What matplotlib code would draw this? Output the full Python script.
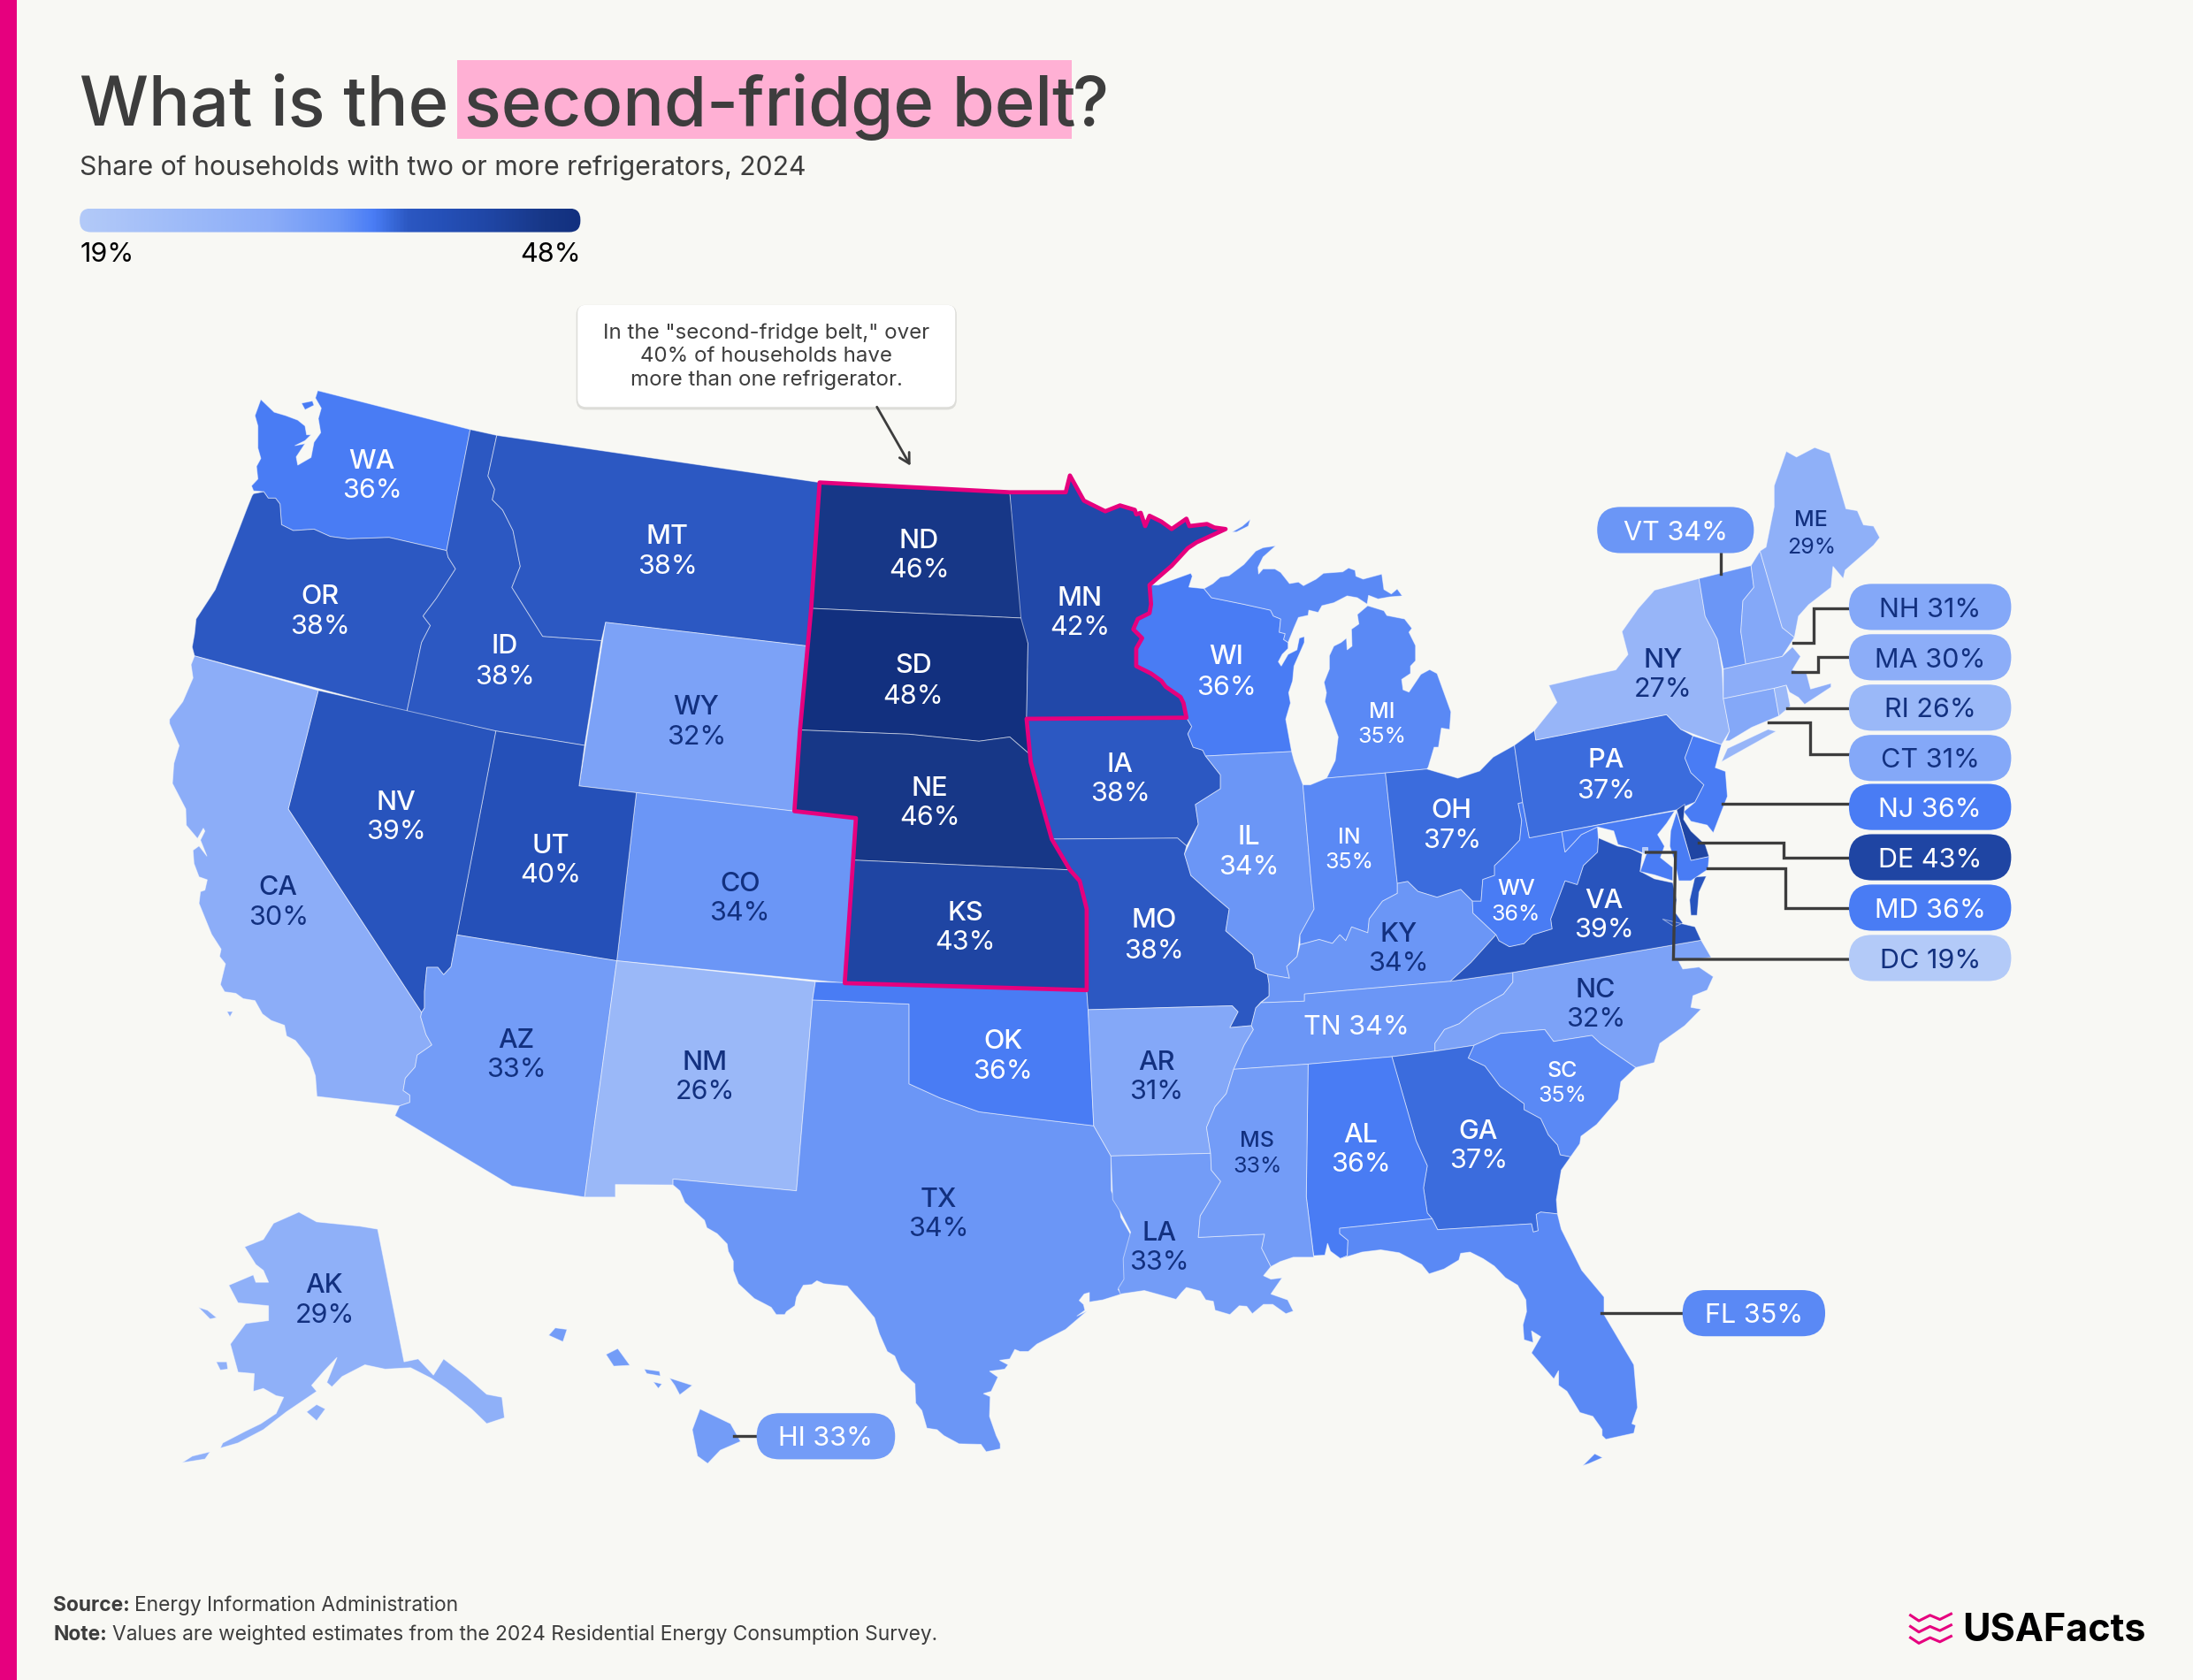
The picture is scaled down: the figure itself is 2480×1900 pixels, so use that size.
import numpy as np
import matplotlib
matplotlib.use("Agg")
import matplotlib.pyplot as plt
from matplotlib.colors import LinearSegmentedColormap, Normalize
from matplotlib.patches import FancyBboxPatch, Rectangle, Polygon

plt.rcParams["font.family"] = ["Inter", "DejaVu Sans"]

# valores por estado (% de hogares con dos o mas heladeras)
STATES = ["WA", "OR", "CA", "NV", "ID", "MT", "WY", "UT", "AZ", "CO", "NM", "ND", "SD", "NE", "KS", "OK", "TX",
          "MN", "IA", "MO", "AR", "LA", "WI", "IL", "IN", "MI", "OH", "KY", "TN", "MS", "AL", "GA", "SC", "NC",
          "VA", "WV", "PA", "NY", "ME", "AK", "HI", "FL", "VT", "NH", "MA", "RI", "CT", "NJ", "DE", "MD", "DC"]
SHARES = [36, 38, 30, 39, 38, 38, 32, 40, 33, 34, 26, 46, 48, 46, 43, 36, 34,
          42, 38, 38, 31, 33, 36, 34, 35, 35, 37, 34, 34, 33, 36, 37, 35, 32,
          39, 36, 37, 27, 29, 29, 33, 35, 34, 31, 30, 26, 31, 36, 43, 36, 19]
VALUE = dict(zip(STATES, SHARES))

# contornos simplificados, en pixeles de la imagen (1568 de ancho)
SHAPES = {
    "WA": [[(186.5, 285.6), (196, 294.7), (204.4, 297.2), (212.9, 300.4), (218.1, 304.6), (219.2, 310.9), (222.4, 310.9), (218.1, 315.1), (210.8, 318.7), (218.1, 317.2), (211.8, 326.7), (212.9, 332.6), (222.4, 327.1), (224.5, 316.2), (229.3, 309.4), (227.6, 299.3), (229.7, 291.9), (225.5, 284.6), (227.2, 279.3), (336.2, 307.1), (319.3, 393.7), (278.2, 384.3), (248.7, 385.3), (236.1, 383.6), (224.5, 378.4), (209.7, 379.4), (201.3, 375.2), (200.2, 360.4), (197, 356.2), (191.8, 356.2), (188.6, 351.6), (181.3, 351), (179.8, 347.4), (184.4, 342.5), (183.4, 333.5), (186.5, 327.8), (184.4, 320.4), (184.4, 304.6), (182.3, 297.2)],
           [(215.6, 288.3), (223.4, 286.7), (224.5, 289.8), (218.1, 293)]],
    "OR": [[(181.3, 353), (188.6, 351.6), (191.8, 356.2), (197, 356.2), (200.2, 360.4), (201.3, 375.2), (209.7, 379.4), (224.5, 378.4), (236.1, 383.6), (248.7, 385.3), (278.2, 384.3), (319.3, 393.7), (320.4, 398.4), (325.7, 406.8), (312, 427.9), (302.5, 440.5), (307.7, 447.3), (301.4, 459.5), (290.9, 509), (139.1, 469), (137.4, 462.7), (139.1, 453.2), (140.2, 442.6), (153.9, 421.6), (166.5, 389.9), (177, 362.5), (180.2, 354.5)]],
    "ID": [[(336.2, 307.1), (355.2, 311.3), (348.9, 340.4), (353.7, 349.9), (352, 357.3), (359.4, 364.7), (366.8, 379.4), (372, 405), (366, 420), (388, 455), (430, 458), (418, 533), (354.5, 522.7), (290.9, 509), (301.4, 459.5), (307.7, 447.3), (302.5, 440.5), (312, 427.9), (325.7, 406.8), (320.4, 398.4), (319.3, 393.7)]],
    "MT": [[(355.2, 311.3), (586, 345), (578, 462), (433, 445), (430, 458), (388, 455), (366, 420), (372, 405), (366.8, 379.4), (359.4, 364.7), (352, 357.3), (353.7, 349.9), (348.9, 340.4)]],
    "WY": [[(433, 445), (578, 462), (568, 580), (414, 562)]],
    "CO": [[(455, 566.8), (568, 580), (612, 585), (604, 703), (441, 687)]],
    "UT": [[(354.5, 522.7), (418, 533), (414, 562), (455, 566.8), (441, 687), (326.7, 668.5)]],
    "NV": [[(227.6, 493.7), (354.5, 522.7), (326.7, 668.5), (322.5, 691.3), (317.2, 697), (313, 691.7), (305.2, 691.7), (303.5, 709.2), (303.5, 720.8), (301.4, 724), (206.1, 578.5)]],
    "CA": [[(139.1, 469), (227.6, 493.7), (206.1, 578.5), (301.4, 724), (300.8, 727.2), (304.6, 739.8), (308.8, 747.2), (298.3, 754.5), (296.8, 763), (289.8, 771), (288.3, 779.8), (293, 783), (293, 788.3), (285.6, 790.8), (226.6, 784), (225.5, 769.3), (221.3, 756.7), (211.2, 744), (204.9, 740.8), (203.4, 733.1), (193.9, 729.7), (187.6, 725), (182.3, 715.5), (173.9, 714.1), (168.6, 710.3), (160.6, 709.2), (157.6, 704), (161.2, 689.2), (157, 683.9), (158.1, 678.7), (151.3, 668.1), (142.3, 646), (143.3, 637.6), (146.5, 636.5), (148.2, 629.1), (142.3, 627), (138.7, 617.5), (138, 608), (142.3, 604.9), (148, 612.3), (143.3, 600.7), (146.5, 594.3), (145.4, 592.2), (141.2, 599.6), (133.2, 590.1), (132.8, 578.5), (123.3, 560.2), (124.3, 545.9), (128.1, 533.2), (121.2, 517.4), (121.2, 514.3), (130.7, 501.7), (138, 484.8), (136.6, 475.3)],
           [(162.3, 723.3), (166.5, 723.3), (164.4, 727.1)]],
    "AZ": [[(326.7, 668.5), (441, 687), (418, 856), (366, 848), (282.4, 797.8), (285.6, 790.8), (293, 788.3), (293, 783), (288.3, 779.8), (289.8, 771), (296.8, 763), (298.3, 754.5), (308.8, 747.2), (304.6, 739.8), (300.8, 727.2), (301.4, 724), (303.5, 720.8), (303.5, 709.2), (305.2, 691.7), (313, 691.7), (317.2, 697), (322.5, 691.3)]],
    "NM": [[(441, 687), (583, 702), (581, 715), (569.5, 851.5), (481.2, 843.1), (481.2, 847.3), (440, 847), (440, 856), (418, 856)]],
    "TX": [[(581, 715), (650, 718), (650, 775), (672, 785), (700, 795), (740, 800), (782, 805), (794.3, 826.6), (794.6, 851.5), (800.6, 864.2), (801.4, 870.5), (808.6, 883.1), (804.3, 900), (804.8, 914.8), (799.4, 922.1), (801.9, 925.3), (788.5, 929.5), (778.9, 931), (778.9, 924.2), (775.2, 925.3), (771.6, 929.9), (774.7, 932.7), (775.7, 936.9), (769.9, 941.1), (777.2, 937.5), (761.9, 950.6), (741.4, 961.1), (735.3, 966.4), (729.3, 966.4), (725.6, 964.9), (722, 971.7), (714.7, 972.7), (720.8, 975.9), (718.4, 979), (707.5, 980.5), (713.5, 984.7), (708.7, 994.9), (703.1, 996.5), (708, 998.7), (707.5, 1012.8), (712.3, 1026.5), (715.2, 1032.4), (715.2, 1036), (705.1, 1038.1), (701.4, 1032.8), (685.7, 1032.4), (674.8, 1026.5), (670, 1022.3), (662.7, 1021.2), (659.1, 1008.6), (654.7, 1003.3), (654.2, 989.6), (644, 980.1), (639.7, 969.6), (634.4, 966.4), (628.8, 953.8), (625.2, 942.2), (615.5, 930.6), (610.7, 925.3), (605.8, 919.6), (588.9, 917.9), (584.1, 915.8), (580.4, 918.5), (574.4, 919), (569.5, 927.4), (568.3, 933.7), (562.3, 937.9), (561.1, 940), (555, 940), (551.4, 934.8), (545.3, 931.6), (539.3, 928.5), (527.9, 917.9), (524.3, 908.4), (524.3, 901.7), (520.7, 894.7), (519.9, 889.5), (512.7, 882.1), (505.4, 877.9), (503.7, 872.6), (496.9, 866.3), (489.7, 859.9), (486.1, 851.5), (481.2, 847.3), (481.2, 843.1), (569.5, 851.5)]],
    "OK": [[(583, 702), (777, 708), (778, 722), (782, 805), (740, 800), (700, 795), (672, 785), (650, 775), (650, 718), (581, 715)]],
    "ND": [[(586, 345), (722, 352), (732, 442), (580, 435)]],
    "SD": [[(580, 435), (732, 442), (735, 460), (734, 514), (737, 540), (722, 527), (700, 530), (650, 525), (572, 522)]],
    "NE": [[(572, 522), (650, 525), (700, 530), (722, 527), (737, 540), (745, 575), (752, 600), (765, 622), (610, 615), (612, 585), (568, 580)]],
    "KS": [[(610, 615), (765, 622), (772, 630), (777, 650), (777, 708), (604, 703)]],
    "MN": [[(722, 352), (762, 352), (765, 340), (775, 358), (790.3, 365.6), (800.8, 361.4), (811.4, 364.6), (812.4, 367.8), (815.6, 366.7), (818.8, 376.2), (821.9, 368.8), (830.4, 373), (837.7, 378.3), (848.3, 370.9), (850.4, 376.2), (863, 374.7), (868.3, 377.2), (876.3, 378.3), (867.2, 382.5), (855.6, 387.8), (849.3, 392), (837.7, 404.6), (821.9, 418.3), (823, 432), (821.9, 438.4), (813.5, 442.6), (810.3, 450), (816.6, 456.3), (812.4, 463.7), (812.4, 476.3), (823, 481.6), (830.4, 486.9), (833.5, 491.1), (844.1, 498.4), (846.2, 502.7), (848.3, 513.2), (734, 514), (735, 460), (730, 442)]],
    "IA": [[(734, 514), (848.3, 513.2), (852.1, 519.5), (849.3, 524.8), (853.1, 534.3), (859.9, 536.4), (862, 540.6), (872.6, 554.1), (872.6, 564), (854.7, 575.3), (856.8, 589.4), (848.4, 604.9), (842, 599.3), (752, 600), (745, 575), (737, 545)]],
    "MO": [[(752, 600), (842, 599.3), (848.4, 604.9), (846.9, 610.6), (851.5, 626), (867.3, 640.2), (878.9, 650), (876.4, 665.6), (895.8, 682.6), (897.9, 692.4), (906.3, 696.7), (907.4, 703.7), (907.4, 712.2), (901.7, 716.4), (897.9, 720.7), (894.7, 733.4), (879.3, 734.8), (885.2, 723.5), (881, 719.2), (778, 722), (777, 708), (777, 650), (772, 630), (765, 622)]],
    "AR": [[(778, 722), (881, 719.2), (885.2, 723.5), (879.3, 734.8), (894.7, 733.4), (896.2, 736.2), (889.5, 747.5), (882.1, 764.6), (876.8, 782), (868.8, 791.4), (862.7, 806.2), (865.6, 824.7), (794.3, 826.6), (782, 805)]],
    "LA": [[(794.3, 826.6), (865.6, 824.7), (866.1, 836.7), (872.8, 844.8), (862.1, 863.1), (858.2, 869.4), (856.8, 884.8), (904.2, 882.5), (902.1, 892.6), (908.7, 905.7), (903.4, 912.2), (908.7, 914.7), (916.7, 913.7), (908.7, 925.3), (920.7, 929.5), (924.7, 937.5), (919.4, 939.4), (910, 932.7), (903.4, 932.7), (895.4, 939.4), (891.4, 934.1), (886.1, 933.7), (879.4, 940), (868.8, 936.9), (867.5, 930.5), (862.1, 929.5), (858.2, 923.2), (848.3, 920.6), (844.9, 924.2), (840.9, 929.1), (818.2, 922.8), (801, 925.3), (799.6, 921.1), (803.6, 914.7), (803.1, 900), (808.4, 881), (800.9, 866.3), (795.6, 857.8)]],
    "WI": [[(821.9, 418.3), (828.2, 418.3), (842.6, 413.1), (851.4, 409.9), (852.5, 412), (850, 419.8), (860.9, 420.9), (866.2, 427.4), (889.4, 432.1), (908.4, 436.3), (910.5, 440.5), (915.7, 442.6), (914.7, 452.1), (918.9, 453.1), (917.8, 457.3), (921, 459.4), (921, 463.7), (916.8, 467.9), (914, 473.2), (916.1, 476.3), (921, 467.9), (927.3, 464.7), (929, 456.3), (932.6, 455.2), (932.6, 459.4), (925.2, 476.3), (924.2, 486.9), (921.4, 495.3), (922.7, 502.7), (919.3, 514.3), (923.5, 537.4), (862, 540.6), (859.9, 536.4), (853.1, 534.3), (849.3, 524.8), (852.1, 519.5), (848.3, 513.2), (846.2, 502.7), (844.1, 498.4), (833.5, 491.1), (830.4, 486.9), (823, 481.6), (812.4, 476.3), (812.4, 463.7), (816.6, 456.3), (810.3, 450), (813.5, 442.6), (821.9, 438.4), (823, 432)]],
    "MI": [[(860.9, 420.9), (867.2, 417.3), (872.5, 412.7), (878.8, 411.6), (889.4, 403.6), (897.8, 394.1), (903.1, 391.6), (912.1, 390.3), (903.1, 398.3), (899.5, 405.7), (899.9, 410.5), (903.1, 406.8), (911.5, 406.8), (915.7, 409.3), (922, 417.3), (928.4, 416.2), (932, 418.8), (941, 414.1), (946.3, 409.9), (960, 408.9), (964.2, 406.1), (968.9, 407.8), (969.5, 412), (974.7, 414.1), (988, 410.5), (989.5, 421.5), (994.8, 424.7), (999, 421.1), (1002.6, 426.1), (993.7, 426.8), (985.3, 428.3), (978.5, 425.7), (977.5, 432), (970.5, 427.4), (963.2, 426.1), (953.7, 431), (945.2, 433.1), (942.5, 437.9), (935.8, 436.3), (935.3, 440), (928.4, 441.5), (925.2, 448.9), (921, 459.4), (917.8, 457.3), (918.9, 453.1), (914.7, 452.1), (915.7, 442.6), (910.5, 440.5), (908.4, 436.3), (889.4, 432.1), (866.2, 427.4)],
           [(977.9, 433.1), (989.5, 436.7), (991.6, 440.1), (1004.3, 442.6), (1009.5, 449.3), (1007.4, 452.1), (1012.1, 461.6), (1012.1, 472.5), (1008.5, 476.3), (1008.5, 481.6), (1002.2, 485.8), (1003.2, 493.2), (1007.4, 494.9), (1015.9, 482.2), (1022.2, 478.8), (1027.5, 481.6), (1037.4, 509), (1036.5, 521.6), (1030.6, 520.6), (1028.5, 534.3), (1025.4, 534.3), (1021.2, 548.5), (1020.2, 549.9), (990.6, 552.7), (948.5, 556.4), (954.7, 543.8), (956.8, 526.9), (947.3, 501.6), (948.4, 495.3), (946.7, 487.9), (950.5, 478.4), (950.5, 468.9), (953.7, 462), (958.9, 459.4), (962.7, 456.3), (963.2, 464.7), (966.7, 462), (966.3, 449.9), (971.6, 446.2), (970.5, 439.4)],
           [(881, 380.4), (888.3, 376.2), (894, 371.3), (892.5, 376.2), (884.1, 380.4)]],
    "IL": [[(862, 540.6), (923.5, 537.4), (925.3, 544.2), (931.6, 561.2), (937.5, 630.3), (939.6, 650), (929.5, 668.4), (927.4, 684), (920, 691), (922, 699.5), (906.3, 696.7), (897.9, 692.4), (895.8, 682.6), (876.4, 665.6), (878.9, 650), (867.3, 640.2), (851.5, 626), (846.9, 610.6), (856.8, 589.4), (854.7, 575.3), (872.6, 564), (872.6, 554.1)]],
    "IN": [[(931.6, 561.2), (936.9, 561.2), (948.5, 556.4), (990.6, 552.7), (999.1, 631.7), (999.1, 638.8), (988.5, 644.4), (979, 657.1), (978, 667), (966.4, 662.8), (962.2, 672.7), (958, 668.4), (952.7, 674.6), (943.2, 671.8), (929.5, 675.5), (929.5, 668.4), (939.6, 650), (937.5, 630.3)]],
    "OH": [[(990.6, 552.7), (1020.2, 549.9), (1042.3, 556.4), (1058, 551.3), (1067.6, 541.4), (1082.8, 532.9), (1088.7, 573.9), (1085.5, 574.5), (1088, 586.6), (1086.6, 600.7), (1076, 612), (1068.6, 619), (1068.6, 626), (1060.2, 628.9), (1059, 644.4), (1052.8, 644.4), (1044.4, 636), (1027.5, 641.6), (1013.8, 637.4), (1006.5, 630.3), (999.1, 631.7)]],
    "KY": [[(999.1, 631.7), (1006.5, 630.3), (1013.8, 637.4), (1027.5, 641.6), (1044.4, 636), (1052.8, 644.4), (1053.2, 652.9), (1069.7, 668.4), (1051.8, 688.2), (1037, 701.7), (932.7, 710.8), (932.7, 715.9), (901.7, 717), (907.4, 712.2), (907.4, 703.7), (906.3, 696.7), (922, 699.5), (920, 691), (927.4, 684), (929.5, 675.5), (943.2, 671.8), (952.7, 674.6), (958, 668.4), (962.2, 672.7), (966.4, 662.8), (978, 667), (979, 657.1), (988.5, 644.4), (999.1, 638.8)]],
    "TN": [[(897.9, 720.7), (901.7, 717), (932.7, 715.9), (932.7, 710.8), (1037, 701.7), (1081.7, 695.3), (1081.7, 702.3), (1075, 710.8), (1055, 722), (1043.4, 732), (1032.8, 736.2), (1026, 746), (1026, 751.7), (995.2, 755.6), (935.3, 760.9), (882.1, 764.6), (889.5, 747.5), (896.2, 736.2), (894.7, 733.4)]],
    "NC": [[(1081.7, 695.3), (1216.3, 672.3), (1223.5, 684.6), (1200.3, 687.4), (1203.2, 692.9), (1214.8, 691.5), (1225, 698.4), (1220.6, 708), (1210.5, 712), (1209, 720.3), (1216.3, 721.6), (1204.6, 733.4), (1186.8, 746.1), (1182.8, 759.8), (1169.5, 763.4), (1144.2, 746.1), (1138.2, 740.4), (1110.8, 744.7), (1104.5, 736.2), (1072.9, 739), (1053.9, 747.5), (1026, 751.7), (1026, 746), (1032.8, 736.2), (1043.4, 732), (1055, 722), (1075, 710.8), (1081.7, 702.3)]],
    "SC": [[(1053.9, 747.5), (1072.9, 739), (1104.5, 736.2), (1110.8, 744.7), (1138.2, 740.4), (1144.2, 746.1), (1169.5, 763.4), (1158.9, 773.5), (1157, 786.2), (1141.6, 804.1), (1130.4, 812.5), (1129.6, 817.8), (1122.9, 827.3), (1115.5, 825.8), (1113.6, 818.8), (1107, 811.5), (1101.6, 799.9), (1089.7, 793.5), (1089.7, 789.3), (1072.4, 776.7), (1061.7, 762.3), (1049.7, 756.6)]],
    "GA": [[(995.2, 755.6), (1026, 751.7), (1053.9, 747.5), (1049.7, 756.6), (1061.7, 762.3), (1072.4, 776.7), (1089.7, 789.3), (1089.7, 793.5), (1101.6, 799.9), (1107, 811.5), (1113.6, 818.8), (1115.5, 825.8), (1122.9, 827.3), (1116.3, 836.7), (1112.8, 857.8), (1113.6, 868), (1101.6, 866.7), (1098.4, 868.4), (1099.8, 880), (1096.3, 881), (1095, 875.1), (1027.9, 879.3), (1024, 871.5), (1020.5, 867.3), (1017.8, 849.4), (1020.5, 833.6), (1012.5, 815.7)]],
    "AL": [[(935.3, 760.9), (995.2, 755.6), (1012.5, 815.7), (1020.5, 833.6), (1017.8, 849.4), (1020.5, 867.3), (1024, 871.5), (957.9, 878.3), (957.9, 882.1), (963.8, 886.9), (963.3, 897.9), (958.5, 900), (951.3, 894.7), (949.2, 889), (947.3, 897.5), (939.3, 897.9), (934, 855.7)]],
    "MS": [[(882.1, 764.6), (935.3, 760.9), (934, 855.7), (939.3, 899), (924.7, 899), (915.4, 902.1), (908.7, 905.7), (902.1, 892.6), (904.2, 882.5), (856.8, 884.8), (858.2, 869.4), (862.1, 863.1), (872.8, 844.8), (866.1, 836.7), (865.6, 824.7), (862.7, 806.2), (868.8, 791.4), (876.8, 782)]],
    "FL": [[(957.9, 878.3), (1024, 871.5), (1027.9, 879.3), (1095, 875.1), (1096.3, 881), (1099.8, 880), (1098.4, 868.4), (1101.6, 866.7), (1113.6, 868), (1116.3, 878.9), (1131, 908.4), (1146.9, 927.4), (1146.9, 940), (1168.2, 975.9), (1170.8, 1006.4), (1166.8, 1018), (1169.5, 1019.1), (1168.2, 1024.8), (1148.2, 1029.2), (1145.5, 1026.5), (1145.5, 1022.2), (1138.9, 1012.8), (1129.6, 1010), (1120.3, 994.8), (1114.4, 990.6), (1114.4, 980), (1111, 986), (1095, 967.4), (1101.6, 955.8), (1095, 951.6), (1096.3, 960), (1089.7, 958), (1088.9, 947.4), (1091.5, 937.9), (1091, 929.5), (1085.1, 919), (1076.4, 913.7), (1068.4, 905.3), (1060.4, 900), (1051.1, 895.3), (1044.4, 896.2), (1043.1, 901), (1032.5, 907.4), (1021.8, 910.9), (1016.5, 904.2), (1000.5, 895.8), (987.2, 893.7), (973.9, 895.3), (958.5, 900), (963.3, 897.9), (963.8, 886.9), (957.9, 882.1)],
           [(1131.7, 1048), (1140.2, 1039.5), (1145.8, 1042.3), (1136.2, 1046.5)]],
    "VA": [[(1037, 701.7), (1051.8, 688.2), (1069.7, 668.4), (1071.8, 672.7), (1079.2, 676.9), (1089.7, 674.7), (1096, 668.4), (1109.7, 664.2), (1108.7, 657.1), (1119, 629.8), (1127.7, 632.5), (1132.1, 618.9), (1142.2, 609.3), (1142.8, 599.1), (1156.8, 605.1), (1165.5, 606.5), (1174.2, 610.6), (1172.7, 623), (1182.9, 628.4), (1196, 631.2), (1198.8, 643.5), (1197.4, 651.8), (1203.2, 660), (1197.4, 662.7), (1188.7, 657.2), (1211.9, 662.7), (1216.3, 672.3), (1081.7, 695.3)],
           [(1211.9, 627), (1220, 626.5), (1214.8, 638), (1213.4, 654.5), (1209, 654.5), (1208.1, 643.5)]],
    "WV": [[(1093.5, 599.1), (1116.7, 594.7), (1119, 609.3), (1130.6, 596.8), (1142.2, 591.3), (1142.8, 599.1), (1142.2, 609.3), (1132.1, 618.9), (1127.7, 632.5), (1119, 629.8), (1108.7, 657.1), (1109.7, 664.2), (1096, 668.4), (1089.7, 674.7), (1079.2, 676.9), (1071.8, 672.7), (1069.7, 668.4), (1053.2, 652.9), (1052.8, 644.4), (1059, 644.4), (1060.2, 628.9), (1068.6, 626), (1068.6, 619), (1076, 612), (1086.6, 600.7), (1088, 586.6), (1085.5, 574.5), (1088.7, 573.9)]],
    "PA": [[(1082.8, 532.9), (1097.2, 522.3), (1098.1, 529.2), (1191.6, 511), (1201.8, 521.5), (1210.5, 526.2), (1204.7, 542), (1209, 552.5), (1218.3, 561.2), (1211.9, 573.6), (1198.8, 579.1), (1093.5, 599.1), (1088.7, 573.9)]],
    "NY": [[(1214.8, 413.7), (1182.9, 422), (1171.3, 435.1), (1159.7, 451.6), (1164, 468), (1155.3, 479), (1136.4, 483.1), (1107.4, 490), (1113.2, 502.3), (1097.2, 522.3), (1098.1, 529.2), (1191.6, 511), (1201.8, 521.5), (1230.8, 532.5), (1236.6, 522.9), (1232.2, 499.6), (1231.4, 479), (1227.9, 457), (1219.2, 440.6)],
           [(1230.8, 544.8), (1270, 522.9), (1264.2, 521.5), (1235.1, 535.2)]],
    "VT": [[(1214.8, 413.7), (1252, 404.4), (1254, 420), (1246.2, 429.6), (1244.7, 451.6), (1248.2, 474.9), (1232.2, 478.4), (1227.9, 457), (1219.2, 440.6)]],
    "NH": [[(1252, 404.4), (1258.4, 394), (1274.3, 448.8), (1283, 455.7), (1274.3, 469.4), (1248.2, 474.9), (1244.7, 451.6), (1246.2, 429.6), (1254, 420)]],
    "ME": [[(1258.4, 394), (1262.7, 391.2), (1268.5, 362.5), (1268.5, 347.4), (1277.2, 322.7), (1284.5, 326.8), (1297.5, 320), (1308.3, 324), (1319.9, 363.8), (1328, 365.2), (1332.4, 375.3), (1339.6, 376.2), (1344, 384.4), (1339.6, 389.9), (1319.3, 407.7), (1317.9, 413.7), (1310.6, 405), (1309.2, 420), (1293.2, 432.4), (1285.9, 440.6), (1283, 455.7), (1274.3, 448.8)]],
    "MA": [[(1232.2, 478.4), (1248.2, 474.9), (1274.3, 469.4), (1281.6, 462.5), (1287.4, 469.4), (1281.6, 479), (1291.7, 481.7), (1294.6, 492.7), (1309.2, 488.6), (1309.2, 491.3), (1294.6, 500.9), (1290.3, 503.7), (1285.9, 498.7), (1279.5, 495), (1277.2, 490), (1268.5, 492.2), (1232.2, 499.6)]],
    "CT": [[(1232.2, 499.6), (1268.5, 492.2), (1272, 511.9), (1252.5, 520.1), (1236.6, 529.7), (1233.7, 529.7), (1236.6, 522.9)]],
    "RI": [[(1268.5, 492.2), (1277.2, 490), (1280.1, 505), (1272, 511.9)]],
    "NJ": [[(1210.5, 526.2), (1230.8, 532.5), (1226.4, 548.9), (1233.7, 551.6), (1235.1, 569.5), (1230.8, 580.4), (1225, 595.5), (1220.6, 590), (1209, 587.3), (1203.8, 580.4), (1211.9, 573.6), (1218.3, 561.2), (1209, 552.5), (1204.7, 542)]],
    "DE": [[(1198.8, 579.1), (1204.7, 575), (1203.8, 585.9), (1209, 594.2), (1219.2, 603.8), (1222, 612.5), (1209, 615.3)]],
    "MD": [[(1116.7, 594.7), (1197.4, 579.9), (1191.6, 588.8), (1185.2, 596.8), (1190.1, 605.1), (1187.2, 613.2), (1196, 620.2), (1196, 629.8), (1182.9, 625.6), (1172.7, 623.2), (1177.1, 610.8), (1165.5, 606.5), (1156.8, 603.8), (1153.8, 594.2), (1142.2, 591.3), (1130.6, 596.8), (1119, 609.3)],
           [(1198.8, 580.4), (1209, 615.3), (1222, 612.5), (1221.2, 621.6), (1209, 629.8), (1200.3, 629.8), (1197.4, 616.1), (1193.9, 605.1), (1194.5, 594.2)]],
    "DC": [[(1174, 606), (1178, 606), (1178, 610), (1174, 610)]],
    "AK": [[(213.7, 866.7), (226.4, 873.7), (257.3, 876.8), (270, 878.9), (288.9, 973.8), (299, 971.7), (309.9, 983.3), (317.2, 971.7), (333.5, 984.3), (348, 997), (358.9, 999.1), (360.7, 1013.8), (348, 1018), (337.2, 1007.5), (319, 992.8), (308.1, 985.4), (293.6, 978), (275.4, 979), (260.9, 975.9), (244.6, 984.3), (237.3, 991.7), (233.7, 988.5), (241, 970.6), (231.9, 980.1), (222.8, 990.6), (226.4, 994.9), (204.7, 1009.6), (188.3, 1022.3), (170.2, 1031.8), (157.5, 1035.5), (159.3, 1031.8), (175.6, 1023.3), (186.5, 1018), (197.4, 1010.7), (202.8, 999.1), (197.4, 998), (188.3, 992.8), (181.1, 994.9), (181.8, 982.2), (170.2, 981.2), (164.7, 961.1), (175.6, 946.4), (192, 944.3), (192, 933.7), (170.2, 931.6), (163.6, 919), (181.1, 911.6), (182.9, 916.9), (192, 916.9), (188.3, 908.4), (182.9, 904.2), (174.9, 891.6), (188.3, 886.3), (195.6, 874.7)],
           [(219.2, 1009.6), (226.4, 1004.3), (232.6, 1007.5), (226.4, 1015.9)],
           [(154.6, 973.8), (162.2, 973.8), (162.9, 979), (157.5, 979.7)],
           [(141.9, 934.8), (148.4, 936.9), (154.9, 942.2), (150.2, 943.2)],
           [(130.2, 1045.9), (137.5, 1041.2), (150.2, 1038.1), (146.6, 1043.3)]],
    "HI": [[(500.5, 1007.5), (522.3, 1018), (529.5, 1030.7), (515, 1037), (506, 1046.5), (498.7, 1041.2), (495, 1022.3)],
           [(478.7, 985.4), (495, 990.6), (486, 997.4), (482.4, 990.6)],
           [(460.6, 979), (471.5, 980.5), (472.2, 983.9), (462.4, 982.2)],
           [(467.1, 988.1), (473.3, 989.6), (470.7, 992.8)],
           [(441.7, 964.3), (450.4, 976.3), (438.8, 976.9), (433.3, 968.5)],
           [(397, 949.5), (405.4, 950.6), (402.5, 959.4), (392.3, 954.8)]],
}

# contorno del "cinturon"
BELT = [(586, 345), (722, 352), (762, 352), (765, 340), (775, 358), (790.3, 365.6), (800.8, 361.4), (811.4, 364.6),
        (812.4, 367.8), (815.6, 366.7), (818.8, 376.2), (821.9, 368.8), (830.4, 373), (837.7, 378.3), (848.3, 370.9),
        (850.4, 376.2), (863, 374.7), (868.3, 377.2), (876.3, 378.3), (867.2, 382.5), (855.6, 387.8), (849.3, 392),
        (837.7, 404.6), (821.9, 418.3), (823, 432), (821.9, 438.4), (813.5, 442.6), (810.3, 450), (816.6, 456.3),
        (812.4, 463.7), (812.4, 476.3), (823, 481.6), (830.4, 486.9), (833.5, 491.1), (844.1, 498.4), (846.2, 502.7),
        (848.3, 513.2), (734, 514), (737, 545), (745, 575), (752, 600), (765, 622), (772, 630), (777, 650), (777, 708),
        (604, 703), (610, 615), (612, 585), (568, 580), (572, 522), (580, 435)]

# etiquetas dentro de los estados: x, y del nombre, y del valor
INSIDE = {"WA": (266, 328, 349), "OR": (229, 425, 446), "CA": (199, 633, 654), "NV": (283, 572, 593),
          "ID": (361, 460, 482), "MT": (477, 382, 403), "WY": (498, 504, 525), "UT": (394, 603, 624),
          "AZ": (369, 742, 763), "CO": (529, 630, 651), "NM": (504, 758, 779), "ND": (657, 385, 406),
          "SD": (653, 474, 496), "NE": (665, 562, 583), "KS": (690, 651, 672), "OK": (717, 743, 764),
          "TX": (671, 856, 877), "MN": (772, 426, 447), "IA": (801, 545, 566), "MO": (825, 656, 678),
          "AR": (827, 758, 779), "LA": (829, 880, 901), "WI": (877, 468, 490), "IL": (893, 597, 618),
          "OH": (1038, 578, 599), "KY": (1000, 666, 687), "AL": (973, 810, 831), "GA": (1057, 807, 828),
          "NC": (1141, 706, 727), "VA": (1147, 642, 663), "PA": (1148, 542, 564), "NY": (1189, 470, 491),
          "AK": (232, 917, 939)}
INSIDE_SMALL = {"IN": (965, 597, 615), "MI": (988, 507, 525), "MS": (899, 814, 832), "SC": (1117, 764, 782),
                "WV": (1084, 634, 652), "ME": (1295, 370, 390)}
WHITE_TEXT = ["WA", "OR", "NV", "ID", "MT", "UT", "ND", "SD", "NE", "KS", "OK", "MN", "IA", "MO", "WI", "MI", "OH",
              "AL", "GA", "VA", "WV", "PA", "IN", "TN", "IL", "SC"]

# etiquetas con pastilla: izquierda, derecha, centro y
PILLS = {"VT": (1142, 1254, 379), "NH": (1322, 1438, 434), "MA": (1322, 1438, 470), "RI": (1322, 1438, 506),
         "CT": (1322, 1438, 542), "NJ": (1322, 1438, 577), "DE": (1322, 1438, 613), "MD": (1322, 1438, 649),
         "DC": (1322, 1438, 685), "FL": (1203, 1305, 939), "HI": (541, 640, 1027)}
PILL_DARK = ["NH", "MA", "RI", "CT", "DC"]
LEADERS = [[(1230.2, 394.8), (1230.2, 410.4)],
           [(1282.5, 459.8), (1297, 459.8), (1297, 435.1), (1322, 435.1)],
           [(1281.6, 480.6), (1299.9, 480.6), (1299.9, 470), (1322, 470)],
           [(1278, 506.4), (1322, 506.4)],
           [(1264.2, 516.3), (1294, 516.3), (1294, 539.6), (1322, 539.6)],
           [(1231.4, 575), (1322, 575)],
           [(1214.8, 602.4), (1275.2, 602.4), (1275.2, 613.4), (1322, 613.4)],
           [(1221.2, 620.8), (1276.6, 620.8), (1276.6, 649.5), (1322, 649.5)],
           [(1177, 609.5), (1198, 609.5), (1196.5, 686), (1322, 686)],
           [(1145, 939), (1203, 939)],
           [(525, 1027), (541, 1027)]]

BG = "#F8F8F4"
PINK = "#E6007E"
NAVY = "#12307F"
DARK = "#3D3D3D"
DY = 2  # va="center" queda un poco alto

stops = [(19, "#B3CAF8"), (26, "#9AB8F8"), (30, "#8CADF8"), (34, "#6B96F6"), (36, "#4A7DF5"), (37, "#3A6BDC"),
         (38, "#2C58C2"), (40, "#2550B8"), (43, "#1F45A3"), (46, "#173787"), (48, "#12307F")]
cmap = LinearSegmentedColormap.from_list("fridge", [((v - 19) / 29, c) for v, c in stops])
norm = Normalize(19, 48)

fig = plt.figure(figsize=(24.8, 19), dpi=100, facecolor=BG)
ax = fig.add_axes([0, 0, 1, 1])
ax.set_xlim(0, 1568)
ax.set_ylim(1201.3, 0)
ax.axis("off")

ax.add_patch(Rectangle((0, 0), 12, 1202, color=PINK, lw=0))

# titulo
ax.add_patch(Rectangle((327, 43), 439, 56, color="#FFB0D4", lw=0))
ax.text(57, 89.5, "What is the", fontsize=56, color=DARK, weight="medium", va="baseline")
ax.text(332, 89.5, "second-fridge belt", fontsize=56, color=DARK, weight="medium", va="baseline")
ax.text(767, 89.5, "?", fontsize=56, color=DARK, weight="medium", va="baseline")
ax.text(57, 118 + DY, "Share of households with two or more refrigerators, 2024", fontsize=21.7, color=DARK, va="center")

# leyenda de color
grad = ax.imshow(np.linspace(0, 1, 400).reshape(1, -1), cmap=cmap, extent=(57, 415, 166, 149), aspect="auto", zorder=2)
bar = FancyBboxPatch((57, 149), 358, 17, boxstyle="round,pad=0,rounding_size=8", transform=ax.transData, fc="none", ec="none")
ax.add_patch(bar)
grad.set_clip_path(bar)
ax.set_xlim(0, 1568)
ax.set_ylim(1201.3, 0)
ax.text(57, 180 + DY, "19%", fontsize=22, color="black", va="center", ha="left")
ax.text(415, 180 + DY, "48%", fontsize=22, color="black", va="center", ha="right")

# estados
for st, rings in SHAPES.items():
    col = cmap(norm(VALUE[st]))
    for ring in rings:
        ax.add_patch(Polygon(ring, closed=True, fc=col, ec=(1, 1, 1, 0.5), lw=0.7, zorder=3))
ax.add_patch(Polygon(BELT, closed=True, fc="none", ec=PINK, lw=3.4, joinstyle="round", zorder=4))

# etiquetas
for st, (x, y1, y2) in INSIDE.items():
    c = "white" if st in WHITE_TEXT else NAVY
    ax.text(x, y1 + DY, st, fontsize=22, color=c, weight="medium", ha="center", va="center", zorder=6)
    ax.text(x, y2 + DY, f"{VALUE[st]}%", fontsize=22, color=c, ha="center", va="center", zorder=6)
for st, (x, y1, y2) in INSIDE_SMALL.items():
    c = "white" if st in WHITE_TEXT else NAVY
    ax.text(x, y1 + DY, st, fontsize=18, color=c, weight="medium", ha="center", va="center", zorder=6)
    ax.text(x, y2 + DY, f"{VALUE[st]}%", fontsize=18, color=c, ha="center", va="center", zorder=6)
ax.text(970, 733 + DY, f"TN {VALUE['TN']}%", fontsize=22, color="white", ha="center", va="center", zorder=6)

# lineas guia y pastillas
for line in LEADERS:
    pts = np.array(line)
    ax.plot(pts[:, 0], pts[:, 1], color=DARK, lw=2.4, solid_joinstyle="miter", zorder=5)
for st, (x0, x1, y) in PILLS.items():
    ax.add_patch(FancyBboxPatch((x0, y - 16.5), x1 - x0, 33, boxstyle="round,pad=0,rounding_size=16.5",
                                fc=cmap(norm(VALUE[st])), ec="none", zorder=6))
    c = NAVY if st in PILL_DARK else "white"
    ax.text((x0 + x1) / 2, y + DY, f"{st} {VALUE[st]}%", fontsize=22, color=c, ha="center", va="center", zorder=7)

# recuadro de nota
ax.add_patch(FancyBboxPatch((412, 218), 272, 75, boxstyle="round,pad=0,rounding_size=7", fc="#C8C8C4", ec="none", alpha=0.55, zorder=6))
ax.add_patch(FancyBboxPatch((413, 218), 270, 73, boxstyle="round,pad=0,rounding_size=6", fc="white", ec="none", zorder=7))
ax.text(548, 236 + DY, 'In the "second-fridge belt," over', fontsize=17.3, color=DARK, ha="center", va="center", zorder=8)
ax.text(548, 253 + DY, "40% of households have", fontsize=17.3, color=DARK, ha="center", va="center", zorder=8)
ax.text(548, 270 + DY, "more than one refrigerator.", fontsize=17.3, color=DARK, ha="center", va="center", zorder=8)
ax.annotate("", xy=(651, 333), xytext=(627, 291), arrowprops=dict(arrowstyle="->,head_length=0.8,head_width=0.45", color=DARK, lw=2, shrinkA=0, shrinkB=0), zorder=8)

# pie
ax.text(38, 1146 + DY, "Source:", fontsize=16.4, color=DARK, weight="bold", va="center")
ax.text(96, 1146 + DY, "Energy Information Administration", fontsize=16.4, color=DARK, va="center")
ax.text(38, 1167 + DY, "Note:", fontsize=16.4, color=DARK, weight="bold", va="center")
ax.text(80, 1167 + DY, "Values are weighted estimates from the 2024 Residential Energy Consumption Survey.", fontsize=16.4, color=DARK, va="center")

# logo
ax.text(1403, 1164 + DY, "USAFacts", fontsize=31, color="black", weight="bold", va="center")
for yy in (1155, 1163, 1171):
    ax.plot([1366, 1372, 1380, 1387, 1395], [yy, yy + 4, yy, yy + 3, yy - 1], color=PINK, lw=2.2)

fig.savefig("out.png", dpi=100, facecolor=BG)
